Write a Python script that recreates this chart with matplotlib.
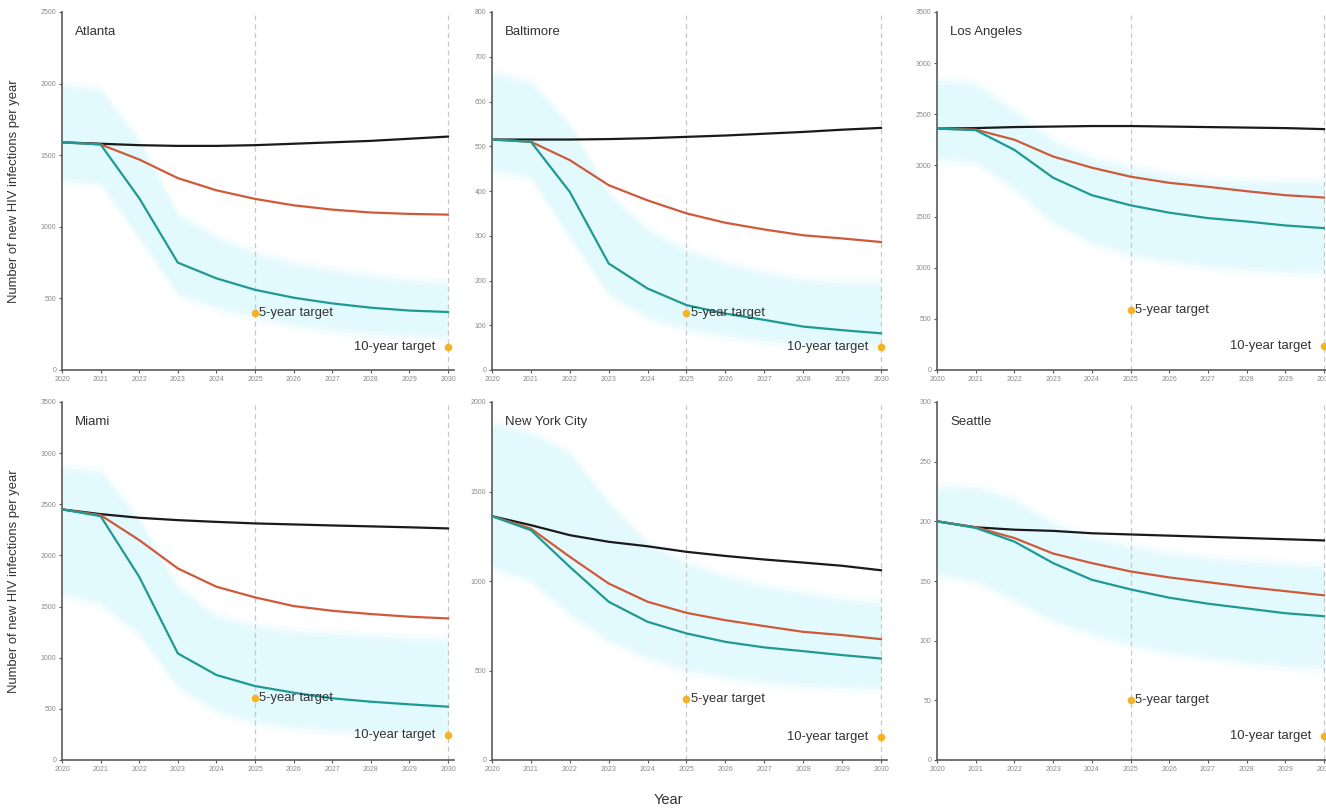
import matplotlib
matplotlib.use("Agg")
import matplotlib.pyplot as plt
import numpy as np

plt.rcParams['font.family'] = ['Liberation Sans', 'DejaVu Sans']

years = list(range(2020, 2031))

cities = ["Atlanta", "Baltimore", "Los Angeles", "Miami", "New York City", "Seattle"]

status_quo = {
    "Atlanta":       [1590, 1580, 1570, 1565, 1565, 1570, 1580, 1590, 1600, 1615, 1630],
    "Baltimore":     [515, 515, 515, 516, 518, 521, 524, 528, 532, 537, 541],
    "Los Angeles":   [2360, 2365, 2375, 2380, 2385, 2385, 2380, 2375, 2370, 2365, 2355],
    "Miami":         [2450, 2404, 2368, 2345, 2328, 2313, 2303, 2293, 2284, 2275, 2264],
    "New York City": [1362, 1312, 1256, 1219, 1194, 1163, 1140, 1120, 1103, 1085, 1060],
    "Seattle":       [200, 195, 193, 192, 190, 189, 188, 187, 186, 185, 184],
}
scenario_a = {
    "Atlanta":       [1590, 1575, 1470, 1340, 1255, 1195, 1150, 1120, 1100, 1090, 1085],
    "Baltimore":     [515, 510, 469, 413, 379, 350, 329, 314, 301, 294, 286],
    "Los Angeles":   [2360, 2350, 2251, 2087, 1978, 1890, 1830, 1791, 1748, 1709, 1686],
    "Miami":         [2450, 2394, 2150, 1873, 1694, 1590, 1505, 1459, 1427, 1401, 1384],
    "New York City": [1362, 1293, 1135, 986, 884, 822, 781, 748, 716, 698, 675],
    "Seattle":       [200, 195, 186, 173, 165, 158, 153, 149, 145, 141.5, 138],
}
scenario_b = {
    "Atlanta":       [1590, 1575, 1200, 750, 640, 560, 505, 465, 435, 415, 405],
    "Baltimore":     [515, 510, 398, 238, 182, 145, 126, 112, 97, 89, 82],
    "Los Angeles":   [2360, 2345, 2152, 1880, 1709, 1610, 1538, 1485, 1452, 1413, 1387],
    "Miami":         [2450, 2384, 1791, 1042, 831, 723, 658, 603, 570, 544, 521],
    "New York City": [1362, 1284, 1079, 884, 772, 707, 660, 629, 608, 586, 567],
    "Seattle":       [200, 194.5, 183, 165, 151, 143, 136, 131, 127, 123, 120.5],
}
band_upper = {
    "Atlanta":       [1965, 1930, 1580, 1060, 900, 790, 720, 670, 630, 600, 580],
    "Baltimore":     [655, 635, 540, 385, 305, 260, 230, 208, 193, 186, 186],
    "Los Angeles":   [2793, 2760, 2497, 2202, 2037, 1939, 1873, 1824, 1807, 1805, 1805],
    "Miami":         [2818, 2785, 2313, 1661, 1368, 1270, 1221, 1195, 1173, 1155, 1140],
    "New York City": [1860, 1805, 1693, 1414, 1191, 1079, 1005, 949, 912, 874, 856],
    "Seattle":       [226, 225, 215, 195, 183, 176, 170, 166, 163, 161, 159],
}
band_lower = {
    "Atlanta":       [1350, 1325, 950, 560, 465, 395, 340, 305, 280, 265, 255],
    "Baltimore":     [454, 439, 305, 179, 126, 100, 86, 74, 67, 63, 63],
    "Los Angeles":   [2103, 2070, 1807, 1479, 1282, 1167, 1101, 1052, 1019, 1002, 986],
    "Miami":         [1661, 1564, 1270, 749, 521, 407, 358, 326, 309, 300, 293],
    "New York City": [1098, 1023, 837, 688, 595, 521, 484, 456, 437, 427, 419],
    "Seattle":       [159, 153, 137, 120, 109, 100, 93, 89, 85, 82, 80],
}
target_5yr = {"Atlanta": 400, "Baltimore": 128, "Los Angeles": 590,
              "Miami": 610, "New York City": 340, "Seattle": 50}
target_10yr = {"Atlanta": 160, "Baltimore": 52, "Los Angeles": 235,
               "Miami": 245, "New York City": 130, "Seattle": 20}
y_max = {"Atlanta": 2500, "Baltimore": 800, "Los Angeles": 3500,
         "Miami": 3500, "New York City": 2000, "Seattle": 300}
y_step = {"Atlanta": 500, "Baltimore": 100, "Los Angeles": 500,
          "Miami": 500, "New York City": 500, "Seattle": 50}

W, H = 1326, 809
fig = plt.figure(figsize=(W / 100, H / 100), dpi=100)

# pixel geometry: (left px of 2020, px per decade)
cols = [(62, 386), (492, 389), (937, 387)]
rows = [(12, 370), (402, 760)]
xpad = 0.15

c_black = "#1a1a1a"
c_orange = "#cf5a3a"
c_teal = "#1f9a93"
c_band = "#e2fafd"
c_target = "#f5b324"
c_spine = "#5a5a5a"
c_tick = "#8a8a8a"

for i, city in enumerate(cities):
    r, c = divmod(i, 3)
    x0, dec = cols[c]
    top, bot = rows[r]
    width_px = dec * (10 + xpad) / 10
    ax = fig.add_axes([x0 / W, 1 - bot / H, width_px / W, (bot - top) / H])

    lo = np.array(band_lower[city], dtype=float)
    hi = np.array(band_upper[city], dtype=float)
    span = y_max[city]
    # soft-edged band (the reference is blurred)
    for k, a in [(0.025, 0.3), (0.012, 0.5)]:
        ax.fill_between(years, lo - k * span, hi + k * span, color=c_band,
                        alpha=a, lw=0, zorder=1)
    ax.fill_between(years, lo, hi, color=c_band, lw=0, zorder=1)
    ax.axvline(2025, color="#c8c8c8", lw=0.9, dashes=(4, 3), zorder=2)
    ax.axvline(2030, color="#c8c8c8", lw=0.9, dashes=(4, 3), zorder=2)
    ax.plot(years, status_quo[city], color=c_black, lw=1.6, zorder=4)
    ax.plot(years, scenario_a[city], color=c_orange, lw=1.6, zorder=4)
    ax.plot(years, scenario_b[city], color=c_teal, lw=1.6, zorder=4)

    ax.scatter([2025], [target_5yr[city]], s=30, color=c_target, zorder=6, clip_on=False, lw=0)
    ax.scatter([2030], [target_10yr[city]], s=30, color=c_target, zorder=6, clip_on=False, lw=0)
    ax.annotate("5-year target", (2025, target_5yr[city]), xytext=(3, 0),
                textcoords="offset points", ha="left", va="center",
                fontsize=9.4, color="#333333", zorder=7)
    ax.annotate("10-year target", (2030, target_10yr[city]), xytext=(-9, 0),
                textcoords="offset points", ha="right", va="center",
                fontsize=9.4, color="#333333", zorder=7)

    ax.set_xlim(2020, 2030 + xpad)
    ax.set_ylim(0, y_max[city])
    ax.set_xticks(years)
    ax.set_yticks(np.arange(0, y_max[city] + 1, y_step[city]))
    ax.tick_params(axis="both", labelsize=5, colors=c_spine, labelcolor=c_tick,
                   length=2.5, width=0.8, pad=1.5)
    for s in ["top", "right"]:
        ax.spines[s].set_visible(False)
    for s in ["left", "bottom"]:
        ax.spines[s].set_color(c_spine)
        ax.spines[s].set_linewidth(1.2)
    ax.text(0.033, 0.945, city, transform=ax.transAxes, fontsize=9.5,
            color="#333333", ha="left", va="center")

for r, (top, bot) in enumerate(rows):
    fig.text(14 / W, 1 - (top + bot) / 2 / H, "Number of new HIV infections per year",
             rotation=90, ha="center", va="center", fontsize=9.4, color="#333333")

fig.text(668 / W, 1 - 800 / H, "Year", ha="center", va="center", fontsize=10.5, color="#333333")

fig.savefig("out.png", dpi=100)
